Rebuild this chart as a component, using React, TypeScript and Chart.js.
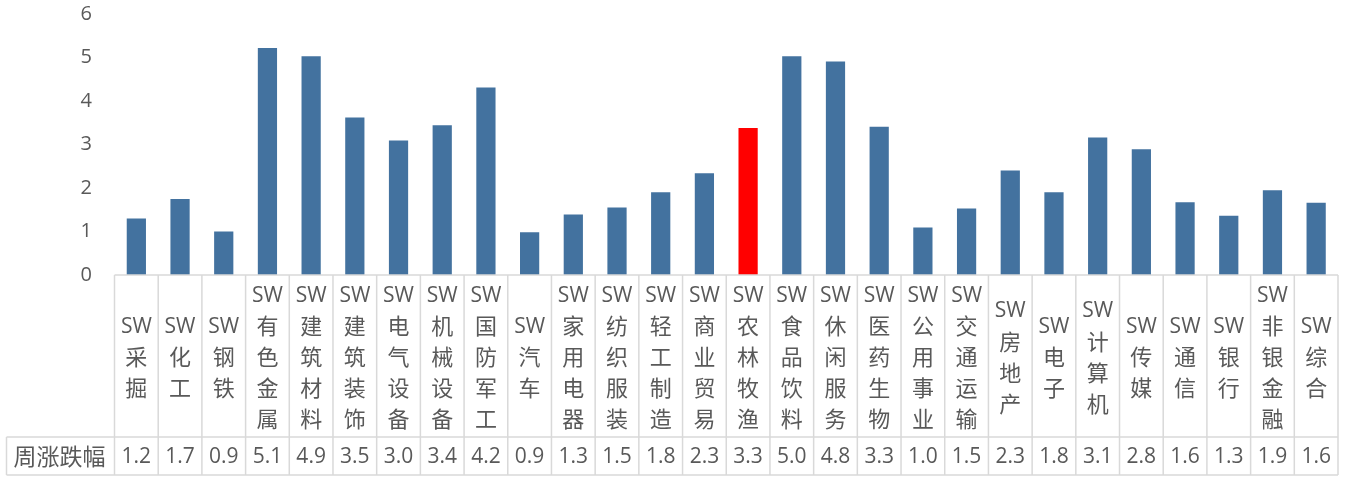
import React, { useEffect, useRef } from "react";
import { Chart, registerables } from "chart.js";

Chart.register(...registerables);

const categories = [
  "采掘", "化工", "钢铁", "有色金属", "建筑材料", "建筑装饰", "电气设备", "机械设备",
  "国防军工", "汽车", "家用电器", "纺织服装", "轻工制造", "商业贸易", "农林牧渔", "食品饮料",
  "休闲服务", "医药生物", "公用事业", "交通运输", "房地产", "电子", "计算机", "传媒",
  "通信", "银行", "非银金融", "综合",
];
const labelPrefix = "SW";
const barValues = [
  1.30, 1.75, 1.00, 5.22, 5.03, 3.62, 3.09, 3.44,
  4.31, 0.98, 1.39, 1.55, 1.90, 2.34, 3.38, 5.03,
  4.91, 3.41, 1.09, 1.53, 2.40, 1.90, 3.16, 2.89,
  1.67, 1.36, 1.95, 1.66,
];
const tableValues = [
  "1.2", "1.7", "0.9", "5.1", "4.9", "3.5", "3.0", "3.4",
  "4.2", "0.9", "1.3", "1.5", "1.8", "2.3", "3.3", "5.0",
  "4.8", "3.3", "1.0", "1.5", "2.3", "1.8", "3.1", "2.8",
  "1.6", "1.3", "1.9", "1.6",
];
const rowHeader = "周涨跌幅";
const highlightCategory = "农林牧渔";
const yMin = 0;
const yMax = 6;
const yStep = 1;

const BAR_COLOR = "#43729F";
const HIGHLIGHT_COLOR = "#FF0000";
const TEXT_COLOR = "#595959";
const LINE_COLOR = "#D9D9D9";
const LATIN_FONT = '"Open Sans", "Noto Sans CJK SC", sans-serif';
const CJK_FONT = '"Noto Sans CJK SC", sans-serif';

export default function App() {
  const canvasRef = useRef<HTMLCanvasElement | null>(null);

  useEffect(() => {
    document.body.style.margin = "0";
    const canvas = canvasRef.current;
    if (!canvas) return;

    const tablePlugin = {
      id: "dataTable",
      afterDraw(chart: any) {
        const ctx = chart.ctx as CanvasRenderingContext2D;
        const xs = chart.scales.x;
        const area = chart.chartArea;
        const n = categories.length;
        const cellW = (xs.right - xs.left) / n;
        const y0 = area.bottom;
        const y1 = 437;
        const y2 = 475;
        const headerLeft = 6.5;

        ctx.save();
        ctx.strokeStyle = LINE_COLOR;
        ctx.lineWidth = 1.5;
        ctx.beginPath();
        ctx.moveTo(xs.left, y0);
        ctx.lineTo(xs.right, y0);
        ctx.moveTo(headerLeft, y1);
        ctx.lineTo(xs.right, y1);
        ctx.moveTo(headerLeft, y2);
        ctx.lineTo(xs.right, y2);
        ctx.moveTo(headerLeft, y1);
        ctx.lineTo(headerLeft, y2);
        for (let i = 0; i <= n; i++) {
          const c = i < n ? xs.getPixelForValue(i) - cellW / 2 : xs.getPixelForValue(n - 1) + cellW / 2;
          ctx.moveTo(c, y0);
          ctx.lineTo(c, y2);
        }
        ctx.stroke();

        ctx.fillStyle = TEXT_COLOR;
        ctx.textAlign = "center";
        ctx.textBaseline = "middle";
        const lineH = 31;
        const midY = (y0 + y1) / 2 + 1;
        categories.forEach((cat, i) => {
          const cx = xs.getPixelForValue(i);
          const lines = [labelPrefix, ...Array.from(cat)];
          lines.forEach((ln, j) => {
            const ly = midY + (j - (lines.length - 1) / 2) * lineH;
            if (j === 0) {
              ctx.font = `21px ${LATIN_FONT}`;
              ctx.fillText(ln, cx, ly + 1);
            } else {
              ctx.font = `22px ${CJK_FONT}`;
              ctx.fillText(ln, cx, ly);
            }
          });
          ctx.font = `21px ${LATIN_FONT}`;
          ctx.fillText(tableValues[i], cx, (y1 + y2) / 2 + 1);
        });
        ctx.font = `23px ${CJK_FONT}`;
        ctx.fillText(rowHeader, (headerLeft + xs.left) / 2 - 1, (y1 + y2) / 2);
        ctx.restore();
      },
    };

    const chart = new Chart(canvas, {
      type: "bar",
      data: {
        labels: categories.map((c) => labelPrefix + c),
        datasets: [
          {
            data: barValues,
            backgroundColor: categories.map((c) => (c === highlightCategory ? HIGHLIGHT_COLOR : BAR_COLOR)),
            borderWidth: 0,
            barPercentage: 0.44,
            categoryPercentage: 1.0,
          },
        ],
      },
      options: {
        responsive: false,
        devicePixelRatio: 1,
        animation: false,
        layout: { padding: { top: 0, right: 9, bottom: 0, left: 0 } },
        plugins: { legend: { display: false }, tooltip: { enabled: false } },
        scales: {
          x: {
            grid: { display: false, drawTicks: false },
            border: { display: false },
            ticks: { display: false },
            afterFit: (s: any) => {
              s.height = 202;
              s.paddingLeft = 0;
              s.paddingRight = 0;
            },
          },
          y: {
            min: yMin,
            max: yMax,
            grid: { display: false, drawTicks: false },
            border: { display: false },
            ticks: {
              stepSize: yStep,
              padding: 22.5,
              color: TEXT_COLOR,
              font: { family: LATIN_FONT, size: 20 },
            },
            afterFit: (s: any) => {
              s.width = 114.5;
              s.paddingTop = 14;
              s.paddingBottom = 0;
            },
          },
        },
      },
      plugins: [tablePlugin],
    });

    return () => chart.destroy();
  }, []);

  return (
    <div style={{ position: "fixed", left: 0, top: 0, width: 1347, height: 477 }}>
      <canvas ref={canvasRef} width={1347} height={477} style={{ display: "block", width: 1347, height: 477 }} />
    </div>
  );
}
